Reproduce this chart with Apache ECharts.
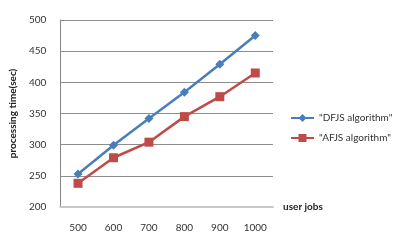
<!DOCTYPE html>
<html lang="en">
<head>
    <meta charset="UTF-8">
    <title>processing time vs user jobs</title>
    <script src="https://cdn.jsdelivr.net/npm/echarts@6/dist/echarts.min.js"></script>
    <style>
        html, body { margin: 0; padding: 0; background: #fff; }
        #chart { width: 398px; height: 242px; }
    </style>
</head>
<body>
    <div id="chart"></div>
    <script>
        var userJobs = ['500', '600', '700', '800', '900', '1000'];
        var dfjsTimes = [253, 299, 342, 384, 429, 475];
        var afjsTimes = [238, 279, 304, 345, 377, 415];

        var font = 'Lato, "Open Sans", sans-serif';
        var chart = echarts.init(document.getElementById('chart'));
        chart.setOption({
            animation: false,
            textStyle: { fontFamily: font },
            grid: { left: 60, right: 125, top: 20, bottom: 35 },
            legend: {
                orient: 'vertical',
                left: 285,
                top: 108,
                itemGap: 10,
                itemWidth: 23,
                itemHeight: 10,
                textStyle: { fontSize: 10, color: '#333', fontFamily: font },
                data: ['"DFJS algorithm"', '"AFJS algorithm"']
            },
            xAxis: {
                type: 'category',
                data: userJobs,
                name: 'user jobs',
                nameLocation: 'end',
                nameGap: 10,
                nameTextStyle: { fontSize: 10, fontWeight: 'bold', color: '#222', padding: [42, 0, 0, 0] },
                axisLine: { lineStyle: { color: '#c8c8c8', width: 2 } },
                axisTick: { show: false },
                axisLabel: { fontSize: 10, color: '#333', margin: 16 }
            },
            yAxis: {
                type: 'value',
                min: 200,
                max: 500,
                interval: 50,
                name: 'processing time(sec)',
                nameLocation: 'middle',
                nameRotate: 90,
                nameGap: 36,
                nameTextStyle: { fontSize: 10, fontWeight: 'bold', color: '#222' },
                axisLine: { show: true, lineStyle: { color: '#868686' } },
                axisTick: { show: false },
                axisLabel: { fontSize: 10, color: '#333', margin: 14 },
                splitLine: { lineStyle: { color: '#8c8c8c' } }
            },
            series: [
                {
                    name: '"DFJS algorithm"',
                    type: 'line',
                    data: dfjsTimes,
                    symbol: 'diamond',
                    symbolSize: 9,
                    color: '#4a7ebb',
                    lineStyle: { width: 2.5 }
                },
                {
                    name: '"AFJS algorithm"',
                    type: 'line',
                    data: afjsTimes,
                    symbol: 'rect',
                    symbolSize: 9,
                    color: '#be4b48',
                    lineStyle: { width: 2.5 }
                }
            ]
        });
    </script>
</body>
</html>
